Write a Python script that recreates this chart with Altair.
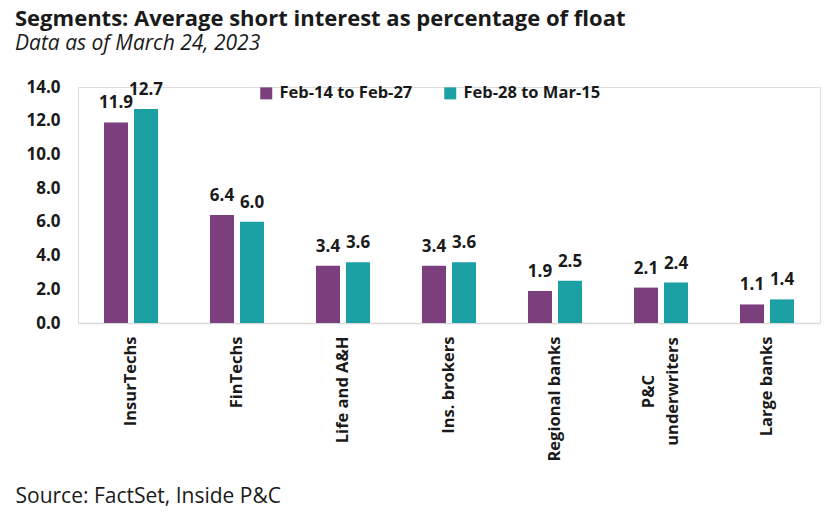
import altair as alt
import pandas as pd

categories = ["InsurTechs", "FinTechs", "Life and A&H", "Ins. brokers",
              "Regional banks", "P&C|underwriters", "Large banks"]
series = ["Feb-14 to Feb-27", "Feb-28 to Mar-15"]
period1 = [11.9, 6.4, 3.4, 3.4, 1.9, 2.1, 1.1]
period2 = [12.7, 6.0, 3.6, 3.6, 2.5, 2.4, 1.4]
y_ticks = [0, 2, 4, 6, 8, 10, 12, 14]
colors = ["#7B3F7E", "#1BA1A4"]

rows = []
for c, a, b in zip(categories, period1, period2):
    rows.append({"segment": c, "period": series[0], "value": a})
    rows.append({"segment": c, "period": series[1], "value": b})
df = pd.DataFrame(rows)

FONT = "Open Sans"
MULTI = "indexof(datum.value, '|') >= 0"

x_enc = alt.X(
    "segment:N", sort=categories,
    scale=alt.Scale(paddingInner=0.49, paddingOuter=0.245),
    axis=alt.Axis(
        title="Source: FactSet, Inside P&C",
        titleFont=FONT, titleFontSize=21, titleFontWeight="normal",
        titleColor="#1a1a1a", titleAnchor="start", titleAlign="left",
        titleBaseline="alphabetic", titleX=-63, titleY=179,
        labelAngle=270, labelFont=FONT, labelFontSize=16.5,
        labelFontWeight="bold", labelColor="#1a1a1a",
        labelPadding={"condition": {"test": MULTI, "value": 68}, "value": 13},
        labelAlign={"condition": {"test": MULTI, "value": "center"}, "value": "right"},
        labelOffset={"condition": {"test": MULTI, "value": -12}, "value": 0},
        labelLineHeight=24,
        labelExpr="split(datum.label, '|')",
        ticks=False, domainColor="#d9d9d9", domainWidth=1.5,
    ),
)
xo_enc = alt.XOffset("period:N", sort=series,
                     scale=alt.Scale(paddingInner=0.2, paddingOuter=0))
y_enc = alt.Y(
    "value:Q",
    scale=alt.Scale(domain=[0, 14], nice=False),
    axis=alt.Axis(
        title=None, values=y_ticks, format=".1f", grid=False, domain=False,
        ticks=False, labelFont=FONT, labelFontSize=17, labelFontWeight="bold",
        labelColor="#1a1a1a", labelPadding=18,
    ),
)
color_enc = alt.Color(
    "period:N", sort=series,
    scale=alt.Scale(domain=series, range=colors),
    legend=alt.Legend(
        title=None, orient="none", legendX=180, legendY=-2,
        direction="horizontal", symbolType="square", symbolSize=144,
        symbolStrokeWidth=0, labelFont=FONT, labelFontSize=16.5,
        labelFontWeight="bold", labelColor="#1a1a1a", labelOffset=5,
        columnPadding=29,
    ),
)

base = alt.Chart(df).encode(x=x_enc, xOffset=xo_enc, y=y_enc)
bars = base.mark_bar().encode(color=color_enc)
labels = base.mark_text(
    baseline="bottom", dy=-10, font=FONT, fontSize=17, fontWeight="bold",
    color="#1a1a1a",
).encode(text=alt.Text("value:Q", format=".1f"))

chart = (bars + labels).properties(
    width=742, height=236,
    autosize=alt.AutoSizeParams(type="none"),
    padding={"left": 70, "top": 79, "right": 12, "bottom": 184},
    title=alt.TitleParams(
        text="Segments: Average short interest as percentage of float",
        subtitle="Data as of March 24, 2023",
        anchor="start", frame="group", dx=-63, offset=23,
        font=FONT, fontSize=22, fontWeight="bold", color="#1a1a1a",
        subtitleFont=FONT, subtitleFontSize=21, subtitleFontStyle="italic",
        subtitleColor="#1a1a1a", subtitlePadding=2,
    ),
).configure_view(stroke=None).configure(background="white")

chart.save("out.html", embed_options={"renderer": "svg", "actions": False})
